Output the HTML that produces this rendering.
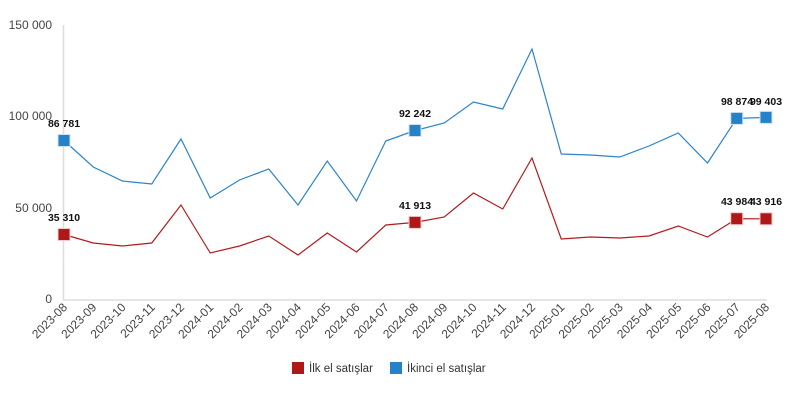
<!DOCTYPE html>
<html><head><meta charset="utf-8"><style>body{margin:0;background:#fff}svg{display:block}text{font-family:"Liberation Sans",sans-serif}</style></head><body>
<svg width="799" height="402" viewBox="0 0 799 402">
<g font-size="12" fill="#444" text-anchor="end">
<text x="52" y="29">150 000</text><text x="52" y="120">100 000</text><text x="52" y="212">50 000</text><text x="52" y="303">0</text>
</g>
<line x1="63.5" y1="25" x2="63.5" y2="300" stroke="#ddd" stroke-width="1.5"/>
<line x1="63" y1="300" x2="767" y2="300" stroke="#ddd" stroke-width="1.5"/>
<g font-size="12" fill="#444" text-anchor="end">
<text transform="translate(68,308) rotate(-45)">2023-08</text><text transform="translate(97.25,308) rotate(-45)">2023-09</text><text transform="translate(126.5,308) rotate(-45)">2023-10</text><text transform="translate(155.75,308) rotate(-45)">2023-11</text><text transform="translate(185,308) rotate(-45)">2023-12</text><text transform="translate(214.25,308) rotate(-45)">2024-01</text><text transform="translate(243.5,308) rotate(-45)">2024-02</text><text transform="translate(272.75,308) rotate(-45)">2024-03</text><text transform="translate(302,308) rotate(-45)">2024-04</text><text transform="translate(331.25,308) rotate(-45)">2024-05</text><text transform="translate(360.5,308) rotate(-45)">2024-06</text><text transform="translate(389.75,308) rotate(-45)">2024-07</text><text transform="translate(419,308) rotate(-45)">2024-08</text><text transform="translate(448.25,308) rotate(-45)">2024-09</text><text transform="translate(477.5,308) rotate(-45)">2024-10</text><text transform="translate(506.75,308) rotate(-45)">2024-11</text><text transform="translate(536,308) rotate(-45)">2024-12</text><text transform="translate(565.25,308) rotate(-45)">2025-01</text><text transform="translate(594.5,308) rotate(-45)">2025-02</text><text transform="translate(623.75,308) rotate(-45)">2025-03</text><text transform="translate(653,308) rotate(-45)">2025-04</text><text transform="translate(682.25,308) rotate(-45)">2025-05</text><text transform="translate(711.5,308) rotate(-45)">2025-06</text><text transform="translate(740.75,308) rotate(-45)">2025-07</text><text transform="translate(770,308) rotate(-45)">2025-08</text>
</g>
<polyline fill="none" stroke="#2b84cc" stroke-width="1.2" points="64,140.5 93.25,167 122.5,181 151.75,184 181,139 210.25,198 239.5,180 268.75,169 298,205 327.25,161 356.5,201 385.75,141 415,130.5 444.25,123 473.5,102 502.75,109 532,49 561.25,154 590.5,155 619.75,157 649,146 678.25,133 707.5,163 736.75,118.4 766,117.4"/>
<polyline fill="none" stroke="#b31b1b" stroke-width="1.2" points="64,234.5 93.25,243 122.5,246 151.75,243 181,205 210.25,253 239.5,246 268.75,236 298,255 327.25,233 356.5,252 385.75,225 415,222.4 444.25,217 473.5,193 502.75,209 532,158 561.25,239 590.5,237 619.75,238 649,236 678.25,226 707.5,237 736.75,218.7 766,218.8"/>
<g fill="#2581c8" stroke="#cfe3f3" stroke-width="1">
<rect x="58" y="134.5" width="12" height="12"/><rect x="409" y="124.5" width="12" height="12"/><rect x="730.75" y="112.4" width="12" height="12"/><rect x="760" y="111.4" width="12" height="12"/>
</g>
<g fill="#b01818" stroke="#f0cccc" stroke-width="1">
<rect x="58" y="228.5" width="12" height="12"/><rect x="409" y="216.4" width="12" height="12"/><rect x="730.75" y="212.7" width="12" height="12"/><rect x="760" y="212.8" width="12" height="12"/>
</g>
<g font-size="10.5" font-weight="bold" fill="#111" text-anchor="middle">
<text x="64" y="127">86 781</text><text x="64" y="221">35 310</text><text x="415" y="117">92 242</text><text x="415" y="209">41 913</text><text x="737" y="105">98 874</text><text x="766" y="105">99 403</text><text x="737" y="205">43 984</text><text x="766" y="205">43 916</text>
</g>
<rect x="292" y="362" width="12" height="12" fill="#b01818"/>
<text x="309" y="372" font-size="11.5" fill="#333">İlk el satışlar</text>
<rect x="390" y="362" width="12" height="12" fill="#2581c8"/>
<text x="407" y="372" font-size="11.5" fill="#333">İkinci el satışlar</text>
</svg>
</body></html>
